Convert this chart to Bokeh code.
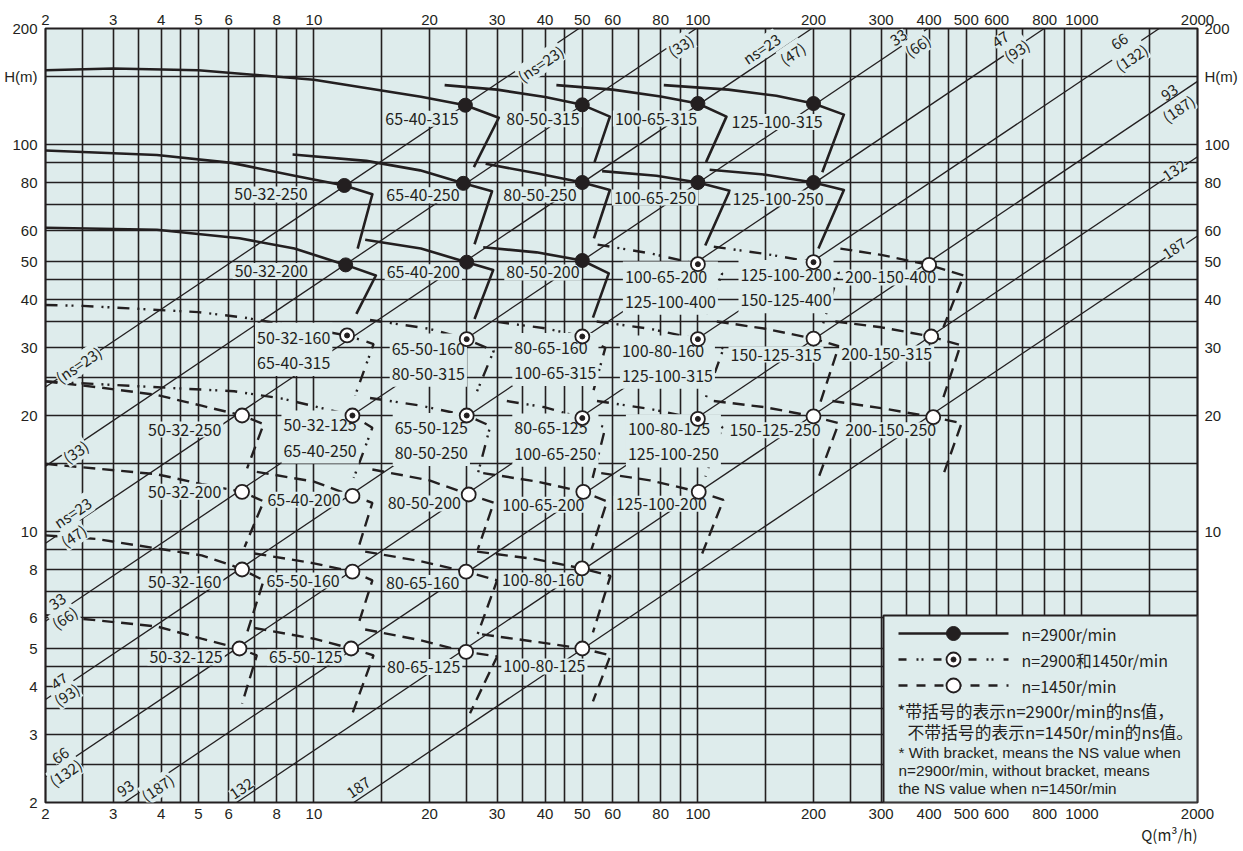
from bokeh.plotting import figure
from bokeh.models import Range1d, LogAxis, FixedTicker, PrintfTickFormatter, Title
from bokeh.core.properties import value
from bokeh.embed import file_html
from bokeh.resources import INLINE

# ---------------- DATA ----------------
x_grid = [2, 2.5, 3, 3.5, 4, 4.5, 5, 6, 7, 8, 9, 10, 15, 20, 25, 30, 35, 40, 45, 50,
          60, 70, 80, 90, 100, 150, 200, 250, 300, 350, 400, 450, 500, 600, 700, 800,
          900, 1000, 1500, 2000]
y_grid = [2, 2.5, 3, 3.5, 4, 4.5, 5, 6, 7, 8, 9, 10, 15, 20, 25, 30, 35, 40, 45, 50,
          60, 70, 80, 90, 100, 150, 200]
x_ticks = [2, 3, 4, 5, 6, 8, 10, 20, 30, 40, 50, 60, 80, 100, 200, 300, 400, 500,
           600, 800, 1000, 2000]
y_ticks_left = [2, 3, 4, 5, 6, 8, 10, 20, 30, 40, 50, 60, 80, 100, 150, 200]
y_ticks_right = [10, 20, 30, 40, 50, 60, 80, 100, 150, 200]

# specific-speed (ns) lines: end points
ns_q0 = [2, 2, 2, 2, 2, 2, 3.21, 6.29, 12.7]
ns_h0 = [23.7, 14.8, 9.35, 5.88, 3.69, 2.33, 2, 2, 2]
ns_q1 = [49, 99, 198, 397, 798, 1590, 2000, 2000, 2000]
ns_h1 = [200, 200, 200, 200, 200, 200, 146, 93.2, 58.2]
ns_texts = ["(ns=23)", "(33)", "ns=23", "(47)", "33", "(66)", "47", "(93)", "66", "(132)",
            "93", "(187)", "132", "187",
            "(ns=23)", "(33)", "ns=23", "(47)", "33", "(66)", "47", "(93)", "66", "(132)",
            "93", "(187)", "132", "187"]

# n = 2900 r/min pumps
names_2900 = ["65-40-315", "80-50-315", "100-65-315", "125-100-315",
              "50-32-250", "65-40-250", "80-50-250", "100-65-250", "125-100-250",
              "50-32-200", "65-40-200", "80-50-200"]
bep_q_2900 = [24.8, 50, 100, 200, 12, 24.5, 50, 100, 200, 12.1, 25, 50]
bep_h_2900 = [126.7, 127, 128, 128, 78.6, 79.6, 80, 80, 80, 49, 49.8, 50.3]
curve_q_2900 = [
    [2, 3, 5, 10, 19, 24.8, 30.3, 26.1],
    [21.9, 30, 40, 50, 59, 53.8],
    [42.8, 60, 80, 100, 118.7, 105],
    [81.5, 120, 160, 200, 240, 210.8],
    [2, 3.9, 6.1, 8.9, 12, 14.2, 13.0],
    [8.8, 13.7, 18.9, 24.5, 29.1, 26.2],
    [28, 38, 50, 59, 53.6],
    [56.3, 78, 100, 121, 104.5],
    [107.3, 150, 200, 240, 206],
    [2, 3.9, 6.4, 8.9, 12.1, 14.5, 12.9],
    [13.6, 19, 25, 29.3, 26.2],
    [27.6, 38, 50, 58.6, 53.3],
]
curve_h_2900 = [
    [156, 157.7, 156, 147.5, 133.3, 126.7, 117.6, 87.7],
    [142.8, 139, 133, 127, 118.4, 90.3],
    [142.8, 139, 133.5, 128, 118.4, 90.3],
    [142.8, 139, 134, 128, 119.8, 85],
    [96.8, 94.2, 89.9, 83.3, 78.6, 74.6, 54],
    [94.5, 91, 86, 79.6, 75.9, 55.4],
    [89.4, 84.5, 80, 76.5, 57.4],
    [85.6, 83.3, 80, 76.2, 55],
    [86.3, 83.8, 80, 76.5, 54],
    [61.1, 60.4, 57.4, 54, 49, 46, 36.6],
    [56.9, 54, 49.8, 47.5, 35.5],
    [54.4, 52.8, 50.3, 46.6, 35.8],
]

# pumps shown for both 2900 and 1450 r/min
names_dual = ["100-65-200\n125-100-400", "125-100-200\n150-125-400",
              "50-32-160\n65-40-315", "65-50-160\n80-50-315", "80-65-160\n100-65-315",
              "100-80-160\n125-100-315", "50-32-125\n65-40-250", "65-50-125\n80-50-250",
              "80-65-125\n100-65-250", "100-80-125\n125-100-250"]
bep_q_dual = [100, 200, 12.2, 25, 50, 100, 12.6, 25, 50, 100]
bep_h_dual = [49.2, 49.8, 32.2, 31.5, 32, 31.5, 20, 20, 19.7, 19.6]
curve_q_dual = [
    [54.8, 75, 100, 115.7, 104],
    [110, 150, 200, 232.8, 212],
    [2, 2.5, 5, 6.6, 9.2, 12.2, 14.3, 12.8],
    [14, 20, 25, 29.4, 26.5],
    [30, 40, 50, 57.4, 53.2],
    [54.5, 75, 100, 116.6, 105],
    [2, 6.2, 8.3, 12.6, 14.2, 12.7],
    [14, 19, 25, 28.8, 26.5],
    [31.8, 40, 50, 57.4, 53.2],
    [54.6, 75, 100, 115.8, 104.6],
]
curve_h_dual = [
    [55.3, 52.5, 49.2, 46.6, 35.5],
    [54.6, 52.3, 49.8, 46.9, 34.6],
    [38.6, 38.4, 37, 35.8, 33.8, 32.2, 30.6, 22.5],
    [35.3, 33.5, 31.5, 29.4, 22.9],
    [34.9, 33.6, 32, 29.9, 22.8],
    [35, 33.5, 31.5, 29.8, 22.3],
    [24.5, 23.1, 22.1, 20, 18.6, 13.8],
    [22.2, 21.2, 20, 18.8, 13.7],
    [21.8, 21, 19.7, 18.6, 13.8],
    [21.8, 20.8, 19.6, 18.7, 13.9],
]

# n = 1450 r/min pumps
names_1450 = ["200-150-400", "150-125-315", "200-150-315", "150-125-250", "200-150-250",
              "50-32-250", "50-32-200", "65-40-200", "80-50-200", "100-65-200",
              "125-100-200", "50-32-160", "65-50-160", "80-65-160", "100-80-160",
              "50-32-125", "65-50-125", "80-65-125", "100-80-125"]
bep_q_1450 = [400, 200, 405, 200, 410, 6.5, 6.5, 12.6, 25.3, 50.3, 100.5, 6.5, 12.6,
              24.9, 49.9, 6.4, 12.5, 24.9, 50]
bep_h_1450 = [49, 31.6, 32, 19.9, 19.8, 20, 12.7, 12.4, 12.5, 12.7, 12.7, 8, 7.9, 7.9,
              8.05, 5, 5, 4.9, 5]
curve_q_1450 = [
    [235, 300, 400, 492, 436],
    [112, 150, 200, 232.8, 208],
    [228, 300, 405, 483, 436],
    [110, 150, 200, 232.6, 206],
    [224, 300, 410, 486, 436],
    [2, 2.8, 3.9, 5.1, 6.5, 7.4, 6.7],
    [2, 3.9, 5.1, 6.5, 7.4, 6.6],
    [7.1, 10, 12.6, 14.2, 13.1],
    [14.2, 20, 25.3, 29.4, 26.7],
    [27.6, 38, 50.3, 58, 52.8],
    [56, 75, 100.5, 116.5, 102.6],
    [2, 2.7, 5.1, 6.1, 6.5, 7.4, 6.7],
    [7.0, 10, 12.6, 14.2, 13.0],
    [13.6, 19, 24.9, 30, 26.7],
    [26.6, 38, 49.9, 59.2, 53.3],
    [2, 3.9, 5.1, 6.4, 7.1, 6.5],
    [7.0, 10, 12.5, 14.3, 12.6],
    [13.6, 19, 24.9, 30, 25.5],
    [27.4, 38, 50, 59.2, 53.3],
]
curve_h_1450 = [
    [54, 52, 49, 46, 33.8],
    [35, 33.5, 31.6, 30.2, 21.5],
    [35, 33.8, 32, 30.4, 22.3],
    [21.8, 21, 19.9, 19.1, 13.8],
    [21.8, 20.9, 19.8, 19.1, 14.1],
    [24.5, 23.6, 22.6, 21.2, 20, 19, 14.6],
    [15, 14.1, 13.3, 12.7, 12, 9.15],
    [14.3, 13.5, 12.4, 11.9, 9.2],
    [14.5, 13.6, 12.5, 11.9, 9.0],
    [14.2, 13.5, 12.7, 12.0, 9.0],
    [14.2, 13.6, 12.7, 12.1, 8.8],
    [9.8, 9.6, 8.7, 8.2, 8, 7.5, 5.5],
    [8.8, 8.3, 7.9, 7.5, 5.7],
    [8.9, 8.4, 7.9, 7.5, 5.45],
    [8.9, 8.5, 8.05, 7.7, 5.5],
    [6.1, 5.7, 5.3, 5, 4.8, 3.6],
    [5.65, 5.3, 5, 4.8, 3.4],
    [5.6, 5.25, 4.9, 4.77, 3.4],
    [5.44, 5.2, 5, 4.8, 3.65],
]

legend_texts = ["n=2900r/min", "n=2900和1450r/min", "n=1450r/min"]
note_cn = ["*带括号的表示n=2900r/min的ns值，", "不带括号的表示n=1450r/min的ns值。"]
note_en = ["* With bracket, means the NS value when",
           "n=2900r/min, without bracket, means",
           "the NS value when n=1450r/min"]
x_title = "Q(m³/h)"

# ---------------- LAYOUT / STYLE ----------------
INK = "#231f20"
BG = "#deecec"
FONT = "Noto Sans CJK SC"
FW, FH = 1152, 774
XL, YT = 45.0, 28.0


def px2q(x):
    return 2 * 10 ** ((x - XL) / (FW / 3.0))


def px2h(y):
    return 200 / 10 ** ((y - YT) / (FH / 2.0))


def shift(q, h, dx, dy):
    return q * 10 ** (dx / (FW / 3.0)), h / 10 ** (dy / (FH / 2.0))


# label offsets (px) from marker: (to label left edge, to label vertical centre)
off_2900 = [(-82, 13.5), (-78, 14.5), (-85, 15), (-84, 18.5), (-112, 9), (-79, 12),
            (-81, 12), (-86, 15), (-83, 16), (-113, 6), (-82, 10), (-78, 12)]
off_dual = [(-75, 24), (-75, 24.5), (-92, 14), (-77, 21), (-70, 23), (-78, 23),
            (-71, 21.5), (-74, 24), (-70, 22), (-72, 22)]
off_1450 = [(-86, 12.5), (-85, 16), (-92, 17), (-86, 14), (-90, 13), (-96, 14), (-96, 0),
            (-87, 4), (-83, 9), (-83, 13), (-85, 12), (-96, 12), (-88, 9), (-82, 11.5),
            (-82, 12), (-92, 9), (-84, 9), (-81, 15), (-81, 18)]
ns_pos = [(540, 63), (680, 45), (761, 48), (792, 53), (898, 37), (917, 45), (1000, 39),
          (1016, 50), (1119, 41), (1131, 57), (1169, 92), (1178, 108), (1174, 170),
          (1174, 248),
          (78, 364), (75, 451), (72, 512), (73, 535), (57, 601), (64, 617), (59, 681),
          (66, 694), (60, 755), (65, 772), (125, 788), (157, 787), (241, 788), (358, 787)]

p = figure(frame_width=FW, frame_height=FH, x_axis_type="log", y_axis_type="log",
           x_range=Range1d(2, 2000), y_range=Range1d(2, 200),
           output_backend="svg", toolbar_location=None,
           min_border_left=45, min_border_right=46, min_border_top=28, min_border_bottom=49,
           background_fill_color=BG, border_fill_color="white")
p.outline_line_color = INK
p.outline_line_width = 2.2
p.outline_line_alpha = 1


def style_axis(ax, ticks, standoff, overrides=None):
    ax.ticker = FixedTicker(ticks=ticks)
    ax.formatter = PrintfTickFormatter(format="%d")
    if overrides:
        ax.major_label_overrides = overrides
    ax.axis_line_color = None
    ax.major_tick_line_color = None
    ax.minor_tick_line_color = None
    ax.major_tick_out = 0
    ax.major_tick_in = 0
    ax.major_label_standoff = standoff
    ax.major_label_text_font = "Liberation Sans"
    ax.major_label_text_font_size = "15px"
    ax.major_label_text_color = INK


style_axis(p.below[0], x_ticks, 6)
style_axis(p.left[0], y_ticks_left, 8, {150: "H(m)"})
top_ax = LogAxis()
style_axis(top_ax, x_ticks, 4)
p.add_layout(top_ax, "above")
right_ax = LogAxis()
style_axis(right_ax, y_ticks_right, 7, {150: "H(m)"})
p.add_layout(right_ax, "right")

p.add_layout(Title(text=x_title, align="right", text_font=FONT, text_font_size="15px",
                   text_font_style="normal", text_color=INK, standoff=0, offset=0),
             "below")

for g, t in ((p.xgrid[0], x_grid), (p.ygrid[0], y_grid)):
    g.ticker = FixedTicker(ticks=t)
    g.grid_line_color = INK
    g.grid_line_width = 1.6
    g.grid_line_alpha = 1
    g.minor_grid_line_color = None

# ns lines
p.segment(x0=ns_q0, y0=ns_h0, x1=ns_q1, y1=ns_h1, line_color=INK, line_width=1.3)

# performance curves
p.multi_line(xs=curve_q_2900, ys=curve_h_2900, line_color=INK, line_width=2.6,
             line_join="round")
p.multi_line(xs=curve_q_dual, ys=curve_h_dual, line_color=INK, line_width=2.4,
             line_dash="12 8 2 4 2 8")
p.multi_line(xs=curve_q_1450, ys=curve_h_1450, line_color=INK, line_width=2.4,
             line_dash="12 7")

# pump labels
lab_x, lab_y, lab_t = [], [], []
for qs, hs, offs, names in ((bep_q_2900, bep_h_2900, off_2900, names_2900),
                            (bep_q_dual, bep_h_dual, off_dual, names_dual),
                            (bep_q_1450, bep_h_1450, off_1450, names_1450)):
    for q, h, (dx, dy), n in zip(qs, hs, offs, names):
        lq, lh = shift(q, h, dx, dy)
        lab_x.append(lq)
        lab_y.append(lh)
        lab_t.append(n)
p.text(x=lab_x, y=lab_y, text=lab_t, text_font=value(FONT), text_font_size=value("16px"),
       text_color=INK, text_align="left", text_baseline="middle", text_line_height=1.05,
       background_fill_color=BG, padding=2)

# ns labels
p.text(x=[px2q(a) for a, b in ns_pos], y=[px2h(b) for a, b in ns_pos], text=ns_texts,
       angle=0.592, text_font=value(FONT), text_font_size=value("15px"), text_color=INK,
       text_align="center", text_baseline="middle", background_fill_color=BG, padding=0)

# markers
p.scatter(bep_q_2900, bep_h_2900, marker="circle", size=14, fill_color=INK, line_color=INK)
p.scatter(bep_q_dual, bep_h_dual, marker="circle", size=14, fill_color="white",
          line_color=INK, line_width=1.8)
p.scatter(bep_q_dual, bep_h_dual, marker="circle", size=5, fill_color=INK, line_color=INK)
p.scatter(bep_q_1450, bep_h_1450, marker="circle", size=14, fill_color="white",
          line_color=INK, line_width=1.8)

# legend box
p.quad(left=[px2q(883)], right=[2000], top=[px2h(615)], bottom=[2], fill_color=BG,
       line_color=INK, line_width=2)
rows = [633, 659, 685]
lx0, lx1, lm, lt = px2q(898), px2q(1008), px2q(953), px2q(1021)
p.line([lx0, lx1], [px2h(rows[0])] * 2, line_color=INK, line_width=2.6)
p.line([lx0, lx1], [px2h(rows[1])] * 2, line_color=INK, line_width=2.4,
       line_dash="8 10 2 3 2 10")
p.line([lx0, lx1], [px2h(rows[2])] * 2, line_color=INK, line_width=2.4, line_dash="9 9")
p.scatter([lm], [px2h(rows[0])], marker="circle", size=14, fill_color=INK, line_color=INK)
p.scatter([lm, lm], [px2h(rows[1]), px2h(rows[2])], marker="circle", size=14,
          fill_color="white", line_color=INK, line_width=1.8)
p.scatter([lm], [px2h(rows[1])], marker="circle", size=5, fill_color=INK, line_color=INK)
p.text(x=[lt] * 3, y=[px2h(r) for r in rows], text=legend_texts, text_font=value(FONT),
       text_font_size=value("16px"), text_color=INK, text_align="left",
       text_baseline="middle")
p.text(x=[px2q(897), px2q(907)], y=[px2h(710), px2h(731)], text=note_cn,
       text_font=value(FONT), text_font_size=value("16.8px"), text_color=INK,
       text_align="left", text_baseline="middle")
p.text(x=[px2q(898)] * 3, y=[px2h(752), px2h(770), px2h(788)], text=note_en,
       text_font=value("Liberation Sans"), text_font_size=value("15.3px"), text_color=INK,
       text_align="left", text_baseline="middle")

open("out.html", "w").write(file_html(p, INLINE))
